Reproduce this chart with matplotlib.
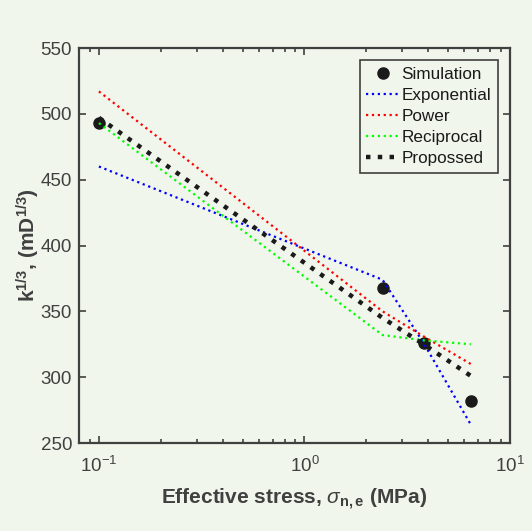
import matplotlib
matplotlib.use('Agg')
import matplotlib.pyplot as plt
from matplotlib.ticker import LogLocator, FixedLocator

plt.rcParams['font.family'] = ['Liberation Sans', 'DejaVu Sans']
plt.rcParams['mathtext.fontset'] = 'custom'
plt.rcParams['mathtext.rm'] = 'Liberation Sans'
plt.rcParams['mathtext.it'] = 'Liberation Sans:italic'
plt.rcParams['mathtext.bf'] = 'Liberation Sans:bold'

# effective stress (MPa) and k^(1/3) values
stress = [0.1, 2.4, 3.8, 6.45]
simulation = [493, 368, 326, 282]
exponential = [460, 374, 326, 264]
power = [517, 350, 331, 310]
reciprocal = [493, 332, 328, 325]
proposed = [497, 345, 325, 301]

bg = '#f1f6ec'
ink = '#404040'

fig = plt.figure(figsize=(5.32, 5.31), dpi=100, facecolor=bg)
ax = fig.add_axes([0.1485, 0.1657, 0.81, 0.7439], facecolor=bg)

ax.plot(stress, simulation, 'o', color='#1a1a1a', markersize=8, label='Simulation')
ax.plot(stress, exponential, ':', color='#0000ff', lw=1.6, label='Exponential')
ax.plot(stress, power, ':', color='#ff0000', lw=1.6, label='Power')
ax.plot(stress, reciprocal, ':', color='#00ff00', lw=1.6, label='Reciprocal')
ax.plot(stress, proposed, ':', color='#1a1a1a', lw=3.2, label='Propossed')

ax.set_xscale('log')
ax.set_xlim(0.08, 10)
ax.set_ylim(250, 550)
ax.yaxis.set_major_locator(FixedLocator([250, 300, 350, 400, 450, 500, 550]))
ax.xaxis.set_major_locator(LogLocator(base=10, numticks=10))
ax.xaxis.set_minor_locator(LogLocator(base=10, subs=range(2, 10), numticks=20))

for s in ax.spines.values():
    s.set_color(ink)
    s.set_linewidth(1.6)
ax.tick_params(which='both', direction='in', top=True, right=True, colors=ink,
               labelsize=13.5, width=1.2)
ax.tick_params(which='major', length=5)
ax.tick_params(which='minor', length=3)
ax.tick_params(axis='x', which='major', pad=9)
ax.tick_params(axis='y', which='major', pad=5)

ax.set_xlabel(r'Effective stress, $\mathit{\sigma}_{\mathbf{n,e}}$ (MPa)',
              fontsize=15, fontweight='bold', color=ink, labelpad=8)
ax.set_ylabel(r'k$^{\mathbf{1/3}}$, (mD$^{\mathbf{1/3}}$)',
              fontsize=15, fontweight='bold', color=ink, labelpad=-1)

leg = ax.legend(loc='upper right', fontsize=12.3, handlelength=1.9, handletextpad=0.15,
                borderaxespad=0.7, labelspacing=0.36, fancybox=False, framealpha=1,
                facecolor=bg, edgecolor=ink, borderpad=0.4)
leg.get_frame().set_linewidth(1.2)
for t in leg.get_texts():
    t.set_color('#1a1a1a')

fig.savefig('out.png', dpi=100, facecolor=bg)
